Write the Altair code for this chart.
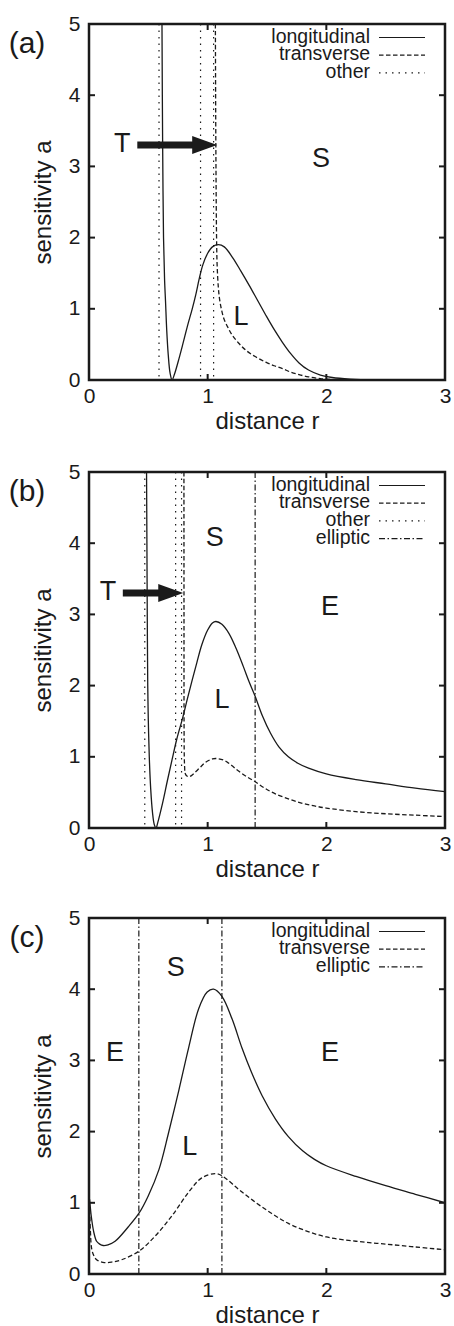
import altair as alt
import pandas as pd

W = 356
H = 356
FONT = "Liberation Sans"
INK = "#1a1a1a"

R_TICKS = [0, 1, 2, 3]
A_TICKS = [0, 1, 2, 3, 4, 5]
R_INNER = [1, 2]
A_INNER = [1, 2, 3, 4]

# ---------------- panel (a) ----------------
A_LONG_R = [0.615, 0.618, 0.622, 0.628, 0.637, 0.645, 0.655, 0.668, 0.683, 0.70,
            0.72, 0.75, 0.79, 0.83, 0.87, 0.90, 0.93, 0.96, 1.0, 1.04, 1.09, 1.14,
            1.21, 1.28, 1.35, 1.42, 1.49, 1.56, 1.63, 1.70, 1.77, 1.85, 1.95, 2.05,
            2.2, 2.4, 3.0]
A_LONG_A = [5.0, 4.0, 3.0, 2.0, 1.4, 1.1, 0.7, 0.35, 0.1, 0.0,
            0.08, 0.25, 0.5, 0.76, 1.0, 1.2, 1.43, 1.62, 1.78, 1.87, 1.90, 1.87,
            1.72, 1.53, 1.33, 1.12, 0.91, 0.71, 0.53, 0.37, 0.24, 0.14, 0.07, 0.035,
            0.012, 0.0, 0.0]
A_TRANS_R = [1.065, 1.067, 1.07, 1.075, 1.08, 1.09, 1.10, 1.115, 1.137, 1.17, 1.207,
             1.26, 1.32, 1.40, 1.49, 1.56, 1.63, 1.70, 1.77, 1.85, 1.95, 2.05]
A_TRANS_A = [5.0, 4.0, 3.0, 2.0, 1.6, 1.3, 1.14, 1.0, 0.86, 0.74, 0.63,
             0.52, 0.42, 0.33, 0.25, 0.2, 0.16, 0.11, 0.075, 0.045, 0.02, 0.005]
A_OTHER_R = [0.59, 0.94, 1.05]
A_ELLIPTIC_R = []
A_TEXT = ["T", "S", "L"]
A_TEXT_R = [0.28, 1.955, 1.28]
A_TEXT_A = [3.31, 3.10, 0.88]
A_ARROW_R = [0.407, 0.92, 1.08]   # shaft start, shaft end, tip
A_ARROW_A = [3.30]
A_LEGEND = ["longitudinal", "transverse", "other"]

# ---------------- panel (b) ----------------
B_LONG_R = [0.485, 0.488, 0.491, 0.495, 0.50, 0.508, 0.52, 0.535, 0.55, 0.565,
            0.58, 0.62, 0.66, 0.70, 0.74, 0.79, 0.83, 0.87, 0.91, 0.95, 1.0, 1.04,
            1.07, 1.12, 1.18, 1.24, 1.30, 1.35, 1.40, 1.46, 1.53, 1.60, 1.68, 1.76,
            1.85, 2.0, 2.25, 2.5, 2.75, 3.0]
B_LONG_A = [5.0, 4.0, 3.0, 2.0, 1.5, 1.0, 0.55, 0.22, 0.05, 0.0,
            0.08, 0.35, 0.66, 0.96, 1.25, 1.55, 1.82, 2.08, 2.33, 2.57, 2.78, 2.88,
            2.90, 2.86, 2.73, 2.52, 2.27, 2.05, 1.85, 1.58, 1.33, 1.14, 1.0, 0.91,
            0.84, 0.76, 0.68, 0.62, 0.56, 0.51]
B_TRANS_R = [0.800, 0.8005, 0.801, 0.803, 0.806, 0.81, 0.825, 0.845, 0.88, 0.93, 0.98,
             1.04, 1.08, 1.14, 1.20, 1.26, 1.33, 1.40, 1.48, 1.57, 1.68, 1.79, 1.90,
             2.0, 2.25, 2.5, 2.75, 3.0]
B_TRANS_A = [5.0, 3.0, 1.5, 1.0, 0.85, 0.77, 0.73, 0.72, 0.76, 0.84, 0.92,
             0.97, 0.975, 0.95, 0.88, 0.80, 0.72, 0.65, 0.56, 0.48, 0.41, 0.35, 0.31,
             0.28, 0.23, 0.20, 0.18, 0.16]
B_OTHER_R = [0.47, 0.73, 0.78]
B_ELLIPTIC_R = [1.40]
B_TEXT = ["T", "S", "E", "L"]
B_TEXT_R = [0.16, 1.06, 2.03, 1.12]
B_TEXT_A = [3.32, 4.07, 3.10, 1.80]
B_ARROW_R = [0.285, 0.65, 0.794]
B_ARROW_A = [3.30]
B_LEGEND = ["longitudinal", "transverse", "other", "elliptic"]

# ---------------- panel (c) ----------------
C_LONG_R = [0.005, 0.02, 0.04, 0.064, 0.09, 0.12, 0.16, 0.22, 0.33, 0.42, 0.50,
            0.59, 0.67, 0.757, 0.84, 0.925, 0.996, 1.05, 1.12, 1.206, 1.29, 1.37,
            1.46, 1.57, 1.68, 1.80, 1.90, 2.0, 2.25, 2.5, 2.75, 3.0]
C_LONG_A = [1.05, 0.80, 0.59, 0.46, 0.42, 0.40, 0.41, 0.46, 0.66, 0.85, 1.10,
            1.47, 1.98, 2.58, 3.18, 3.73, 3.96, 4.0, 3.90, 3.58, 3.17, 2.83,
            2.50, 2.18, 1.93, 1.73, 1.61, 1.52, 1.37, 1.24, 1.12, 1.0]
C_TRANS_R = [0.005, 0.012, 0.022, 0.04, 0.064, 0.13, 0.2, 0.275, 0.42, 0.556, 0.70,
             0.84, 0.95, 1.062, 1.12, 1.26, 1.40, 1.54, 1.68, 1.84, 2.0, 2.25, 2.5,
             2.75, 3.0]
C_TRANS_A = [0.90, 0.60, 0.36, 0.26, 0.20, 0.16, 0.17, 0.20, 0.32, 0.53, 0.82,
             1.15, 1.35, 1.41, 1.38, 1.19, 1.01, 0.85, 0.71, 0.60, 0.52, 0.46, 0.42,
             0.38, 0.34]
C_OTHER_R = []
C_ELLIPTIC_R = [0.42, 1.12]
C_TEXT = ["S", "E", "E", "L"]
C_TEXT_R = [0.73, 0.22, 2.03, 0.85]
C_TEXT_A = [4.30, 3.10, 3.10, 1.78]
C_ARROW_R = []
C_ARROW_A = []
C_LEGEND = ["longitudinal", "transverse", "elliptic"]

DASH = {
    "longitudinal": None,
    "transverse": [4.5, 2.5],
    "other": [1.5, 5],
    "elliptic": [6, 2.5, 1.5, 2.5],
}

xs = alt.Scale(domain=[0, 3], nice=False, zero=False)
ys = alt.Scale(domain=[0, 5], nice=False, zero=False)
xaxis = alt.Axis(values=R_TICKS, title="distance r", labelFlush=False,
                 labelPadding=5, titlePadding=3, format="d")
yaxis = alt.Axis(values=A_TICKS, title="sensitivity a", labelPadding=9,
                 titlePadding=13, format="d")


def X(field):
    return alt.X(field, type="quantitative", scale=xs, axis=xaxis)


def Y(field):
    return alt.Y(field, type="quantitative", scale=ys, axis=yaxis)


def line_kw(name, width=1.3):
    kw = dict(color=INK, strokeWidth=width)
    if DASH[name] is not None:
        kw["strokeDash"] = DASH[name]
    return kw


def curve(r, a, name):
    df = pd.DataFrame({"r": r, "a": a, "i": list(range(len(r)))})
    return alt.Chart(df).mark_line(clip=True, interpolate="catmull-rom",
                                   **line_kw(name)).encode(
        x=X("r"), y=Y("a"), order=alt.Order("i:Q"))


def vlines(rs, name):
    df = pd.DataFrame({"r": rs})
    return alt.Chart(df).mark_rule(**line_kw(name, 1.2)).encode(
        x=X("r"), y=alt.value(0), y2=alt.value(H))


def panel(tag, lr, la, tr, ta, other, ell, texts, tx, ty, arr_r, arr_a, legend):
    layers = []
    # inward ticks (gnuplot style)
    ta_df = pd.DataFrame({"t": A_INNER})
    tr_df = pd.DataFrame({"t": R_INNER})
    tick = dict(color=INK, strokeWidth=2)
    layers.append(alt.Chart(ta_df).mark_rule(**tick).encode(
        y=Y("t"), x=alt.value(0), x2=alt.value(6)))
    layers.append(alt.Chart(ta_df).mark_rule(**tick).encode(
        y=Y("t"), x=alt.value(W - 6), x2=alt.value(W)))
    layers.append(alt.Chart(tr_df).mark_rule(**tick).encode(
        x=X("t"), y=alt.value(H - 6), y2=alt.value(H)))
    layers.append(alt.Chart(tr_df).mark_rule(**tick).encode(
        x=X("t"), y=alt.value(0), y2=alt.value(6)))

    if other:
        layers.append(vlines(other, "other"))
    if ell:
        layers.append(vlines(ell, "elliptic"))
    layers.append(curve(tr, ta, "transverse"))
    layers.append(curve(lr, la, "longitudinal"))

    tdf = pd.DataFrame({"r": tx, "a": ty, "t": texts})
    layers.append(alt.Chart(tdf).mark_text(font=FONT, fontSize=27, color=INK,
                                           align="center", baseline="middle").encode(
        x=X("r"), y=Y("a"), text="t:N"))

    if arr_r:
        sdf = pd.DataFrame({"r": [arr_r[0]], "r2": [arr_r[1]], "a": arr_a})
        layers.append(alt.Chart(sdf).mark_rule(color=INK, strokeWidth=7).encode(
            x=X("r"), x2="r2:Q", y=Y("a")))
        hdf = pd.DataFrame({"r": [arr_r[2]], "a": arr_a})
        layers.append(alt.Chart(hdf).mark_point(
            shape="M 0 0 L -2 -0.72 L -2 0.72 Z", size=625, filled=True,
            color=INK, opacity=1, strokeWidth=0).encode(x=X("r"), y=Y("a")))

    # legend (label left, sample right, like gnuplot key)
    for i, name in enumerate(legend):
        yy = 12.5 + i * 17.7
        ldf = pd.DataFrame({"t": [name]})
        layers.append(alt.Chart(ldf).mark_text(font=FONT, fontSize=19.5, color=INK,
                                               align="right", baseline="middle").encode(
            text="t:N", x=alt.value(281), y=alt.value(yy)))
        layers.append(alt.Chart(ldf).mark_rule(**line_kw(name, 1.2)).encode(
            x=alt.value(290), x2=alt.value(336), y=alt.value(yy + 1)))

    # panel tag
    gdf = pd.DataFrame({"t": [tag]})
    layers.append(alt.Chart(gdf).mark_text(font=FONT, fontSize=30, color=INK,
                                           align="center", baseline="middle").encode(
        text="t:N", x=alt.value(-62), y=alt.value(20)))

    return alt.layer(*layers).properties(width=W, height=H)


pa = panel("(a)", A_LONG_R, A_LONG_A, A_TRANS_R, A_TRANS_A, A_OTHER_R, A_ELLIPTIC_R,
           A_TEXT, A_TEXT_R, A_TEXT_A, A_ARROW_R, A_ARROW_A, A_LEGEND)
pb = panel("(b)", B_LONG_R, B_LONG_A, B_TRANS_R, B_TRANS_A, B_OTHER_R, B_ELLIPTIC_R,
           B_TEXT, B_TEXT_R, B_TEXT_A, B_ARROW_R, B_ARROW_A, B_LEGEND)
pc = panel("(c)", C_LONG_R, C_LONG_A, C_TRANS_R, C_TRANS_A, C_OTHER_R, C_ELLIPTIC_R,
           C_TEXT, C_TEXT_R, C_TEXT_A, C_ARROW_R, C_ARROW_A, C_LEGEND)

chart = alt.vconcat(alt.vconcat(pa, pb, spacing=24), pc, spacing=22).properties(
    padding={"left": 7, "top": 11, "right": 0, "bottom": 0},
    background="white",
).configure_view(
    stroke=INK, strokeWidth=2.5
).configure_axis(
    labelFont=FONT, titleFont=FONT, labelFontSize=21, titleFontSize=24,
    labelColor=INK, titleColor=INK, titleFontWeight="normal",
    ticks=False, domain=False, grid=False
)

chart.save("out.html", embed_options={"renderer": "svg", "actions": False})
